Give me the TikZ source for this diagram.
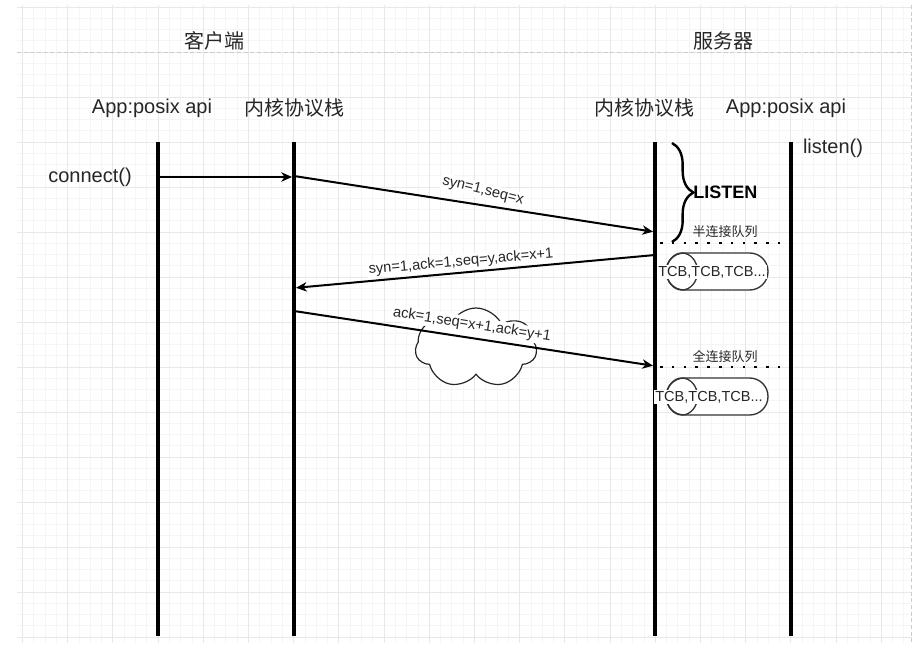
\documentclass[tikz,border=0pt]{standalone}
\usepackage{fontspec}
\setmainfont{Liberation Sans}
\newfontfamily\cjk{Noto Sans CJK SC}
\usepackage{tikz}
\usetikzlibrary{arrows.meta,decorations.pathreplacing,shapes.symbols}
\definecolor{ink}{HTML}{262626}
\definecolor{gridmaj}{HTML}{E8E8E8}
\definecolor{gridmin}{HTML}{F5F5F5}
\definecolor{pagec}{HTML}{CCCCCC}
\tikzset{
  gmin/.style={draw=gridmin,line width=0.5pt},
  gmaj/.style={draw=gridmaj,line width=0.6pt},
  pagebreak/.style={draw=pagec,line width=0.5pt,dash pattern=on 3pt off 2pt},
  hdr/.style={font=\cjk\fontsize{15}{18}\selectfont,text=ink,inner sep=0pt},
  actor/.style={font=\fontsize{15}{18}\selectfont,text=ink,inner sep=0pt},
  actorcn/.style={actor,font=\cjk\fontsize{15}{18}\selectfont},
  lifeline/.style={line width=3pt,draw=black},
  msg/.style={-{Stealth[length=8pt,width=7pt,inset=2.4pt]},line width=1.5pt,
    draw=black,shorten >=1.5pt},
  mlab/.style={font=\fontsize{11}{13}\selectfont,text=ink,fill=white,inner sep=1pt},
  lossc/.style={cloud,cloud puffs=7,cloud puff arc=130,aspect=1.5,draw=black!85,
    line width=0.9pt,fill=white,minimum width=91pt,minimum height=60pt,inner sep=0pt},
  % --- server side: LISTEN brace and the two TCB queues ---
  lbrace/.style={decorate,decoration={brace,amplitude=16pt},line width=1.8pt,draw=black},
  llab/.style={font=\bfseries\fontsize{13.5}{16}\selectfont,text=black,inner sep=0pt},
  qlab/.style={font=\cjk\fontsize{9.75}{12}\selectfont,text=ink,inner sep=0pt},
  qline/.style={line width=1.9pt,draw=black,dash pattern=on 1.9pt off 6.95pt},
  tcbq/.style={draw=black!80,line width=1pt,rounded corners=13.8pt,fill=white,
    minimum width=76.5pt,minimum height=27.75pt,inner sep=0pt},
  tcbring/.style={draw=black!80,line width=1pt},
  tcbtxt/.style={font=\fontsize{10.9}{13}\selectfont,text=ink,fill=white,inner sep=0.8pt},
}

\begin{document}
\begin{tikzpicture}[x=0.75pt,y=-0.75pt]
  \useasboundingbox (0,0) rectangle (914,649);
  % ---- background grid ----
  \foreach \k in {0,...,78} \draw[gmin] ({22.4+11.3*\k},5) -- ({22.4+11.3*\k},643);
  \foreach \k in {0,...,56} \draw[gmin] (17,{7+11.25*\k}) -- (912,{7+11.25*\k});
  \foreach \k in {0,...,19} \draw[gmaj] ({22.4+45.2*\k},5) -- ({22.4+45.2*\k},643);
  \foreach \k in {0,...,14} \draw[gmaj] (17,{7+45*\k}) -- (912,{7+45*\k});
  \draw[pagebreak] (17,52) -- (912,52);
  \draw[pagebreak] (911,5) -- (911,643);

  % ---- headers ----
  \node[hdr] (client) at (214,41) {客户端};
  \node[hdr] (server) at (723,41) {服务器};
  \node[actor]   (cappl) at (152,108) {App:posix api};
  \node[actorcn] (ckerl) at (294,108) {内核协议栈};
  \node[actorcn] (skerl) at (644,108) {内核协议栈};
  \node[actor]   (sappl) at (786,108) {App:posix api};

  % ---- lifelines ----
  \foreach \n/\x in {capp/158,cker/294,sker/655,sapp/791} {
    \coordinate (\n-t) at (\x,142);
    \coordinate (\n-b) at (\x,636);
    \draw[lifeline] (\n-t) -- (\n-b);
  }
  \node[actor] (conn) at (90,177) {connect()};
  \node[actor] (lstn) at (833,148) {listen()};

  % ---- handshake ----
  \coordinate (m0a) at (158,177);
  \coordinate (m0b) at (294,177);
  \draw[msg] (m0a) -- (m0b);
  \coordinate (m1a) at (294,176);
  \coordinate (m1b) at (655,232);
  \draw[msg] (m1a) -- (m1b);
  \node[mlab,rotate=-14] (l1) at (483,191) {syn=1,seq=x};
  \coordinate (m2a) at (655,255);
  \coordinate (m2b) at (294,288);
  \draw[msg] (m2a) -- (m2b);
  \node[mlab,rotate=5] (l2) at (461,262) {syn=1,ack=1,seq=y,ack=x+1};
  \node[lossc] (loss) at (476,348) {};
  \coordinate (m3a) at (294,311);
  \coordinate (m3b) at (655,366);
  \draw[msg] (m3a) -- (m3b);
  \node[mlab,rotate=-9] (l3) at (472,325) {ack=1,seq=x+1,ack=y+1};

  % ---- LISTEN state ----
  \coordinate (br-t) at (672,143);
  \coordinate (br-b) at (672,242);
  \draw[lbrace] (br-t) -- (br-b);
  \node[llab,anchor=west] (listen) at (693,192) {LISTEN};

  % ---- half / full connection queues ----
  \node[qlab] (halfq) at (725,232) {半连接队列};
  \coordinate (hq-a) at (660,243);
  \coordinate (hq-b) at (780,243);
  \draw[qline] (hq-a) -- (hq-b);
  \node[tcbq] (q1) at (717,271.5) {};
  \draw[tcbring] (682,271.5) ellipse [x radius=15.5, y radius=18.5];
  \node[tcbtxt] (q1t) at (712,272) {TCB,TCB,TCB...};

  \node[qlab] (fullq) at (725,357) {全连接队列};
  \coordinate (fq-a) at (660,367);
  \coordinate (fq-b) at (780,367);
  \draw[qline] (fq-a) -- (fq-b);
  \node[tcbq] (q2) at (717,396.5) {};
  \draw[tcbring] (682,396.5) ellipse [x radius=15.5, y radius=18.5];
  \node[tcbtxt] (q2t) at (709,397) {TCB,TCB,TCB...};
\end{tikzpicture}
\end{document}
